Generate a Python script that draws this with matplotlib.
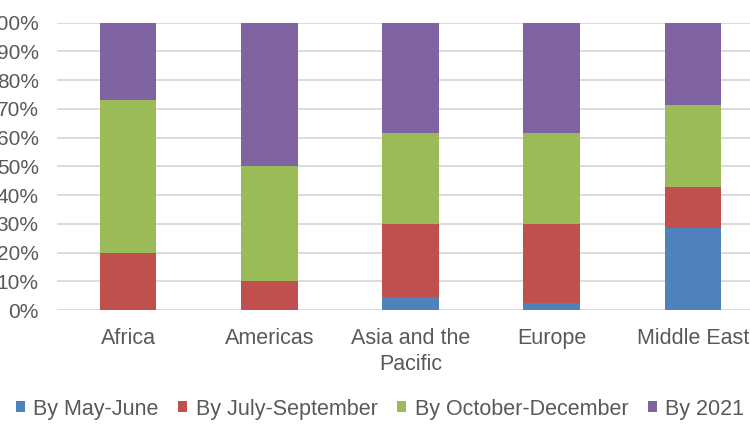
import numpy as np
import matplotlib.pyplot as plt

plt.rcParams['font.family'] = ['Liberation Sans', 'DejaVu Sans']

regions = ["Africa", "Americas", "Asia and the\nPacific", "Europe", "Middle East"]
series = ["By May-June", "By July-September", "By October-December", "By 2021"]
# shares in percent
may_june = [0, 0, 4.5, 2.5, 28.6]
july_sep = [20, 10, 25.5, 27.5, 14.3]
oct_dec = [53, 40, 31.5, 31.5, 28.6]
by_2021 = [27, 50, 38.5, 38.5, 28.5]
colors = ["#4F81BD", "#C0504D", "#9BBB59", "#8064A2"]

fig = plt.figure(figsize=(7.5, 4.3), dpi=100)
# axes stretch past the right edge: the reference is cropped
ax = fig.add_axes([57.5 / 750, 120 / 430, 706 / 750, 287.3 / 430])

x = np.arange(len(regions))
bottom = np.zeros(len(regions))
for name, vals, c in zip(series, [may_june, july_sep, oct_dec, by_2021], colors):
    ax.bar(x, vals, bottom=bottom, width=0.4, color=c, label=name, zorder=3)
    bottom += np.array(vals)

ax.set_xlim(-0.5, len(regions) - 0.5)
ax.set_ylim(0, 100)
ax.set_yticks(np.arange(0, 101, 10))
ax.set_yticklabels([f"{v}%" for v in range(0, 101, 10)])
ax.set_xticks(x)
ax.set_xticklabels(regions, linespacing=1.3)
ax.grid(axis='y', color='#d9d9d9', linewidth=1.3, zorder=0)
for s in ax.spines.values():
    s.set_visible(False)
ax.tick_params(axis='both', length=0, labelcolor='#595959')
ax.tick_params(axis='y', pad=13.5, labelsize=15)
ax.tick_params(axis='x', pad=13, labelsize=15.5)

fig.legend(loc='center', bbox_to_anchor=(380 / 750, 1 - 409 / 430), ncol=4,
           frameon=False, fontsize=15.5, handlelength=0.42, handleheight=0.42,
           handletextpad=0.4, columnspacing=0.9, labelcolor='#595959')

fig.savefig("out.png", dpi=100)
